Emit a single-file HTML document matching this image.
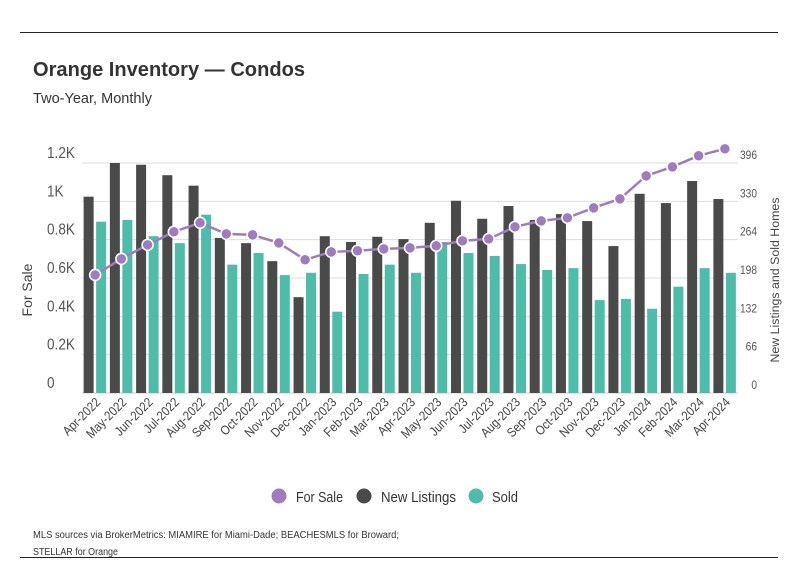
<!DOCTYPE html>
<html><head><meta charset="utf-8"><style>
body{margin:0;background:#fff;font-family:"Liberation Sans",sans-serif}
svg text{font-family:"Liberation Sans",sans-serif}
</style></head><body>
<svg id="c" width="798" height="575" viewBox="0 0 798 575">
<line x1="20" y1="32.5" x2="778" y2="32.5" stroke="#222" stroke-width="1"/>
<line x1="20" y1="557.5" x2="778" y2="557.5" stroke="#222" stroke-width="1"/>
<text x="33" y="76" font-size="20" font-weight="bold" fill="#333" textLength="272" lengthAdjust="spacingAndGlyphs">Orange Inventory — Condos</text>
<text x="33" y="103" font-size="14.5" fill="#333" textLength="119" lengthAdjust="spacingAndGlyphs">Two-Year, Monthly</text>
<text transform="translate(32,290) rotate(-90)" text-anchor="middle" font-size="14" fill="#444">For Sale</text>
<text transform="translate(779,280) rotate(-90)" text-anchor="middle" font-size="11.5" fill="#444" textLength="165" lengthAdjust="spacingAndGlyphs">New Listings and Sold Homes</text>
<g id="grid"></g><g id="bars"></g><g id="line"></g><g id="xlabels"></g>
<g>
<g><circle cx="279" cy="496" r="7.5" fill="#9e7cbf"/><text x="296" y="502" font-size="15" fill="#333" textLength="47" lengthAdjust="spacingAndGlyphs">For Sale</text></g>
<g><circle cx="364" cy="496" r="7.5" fill="#4a4a4a"/><text x="381" y="502" font-size="15" fill="#333" textLength="75" lengthAdjust="spacingAndGlyphs">New Listings</text></g>
<g><circle cx="476" cy="496" r="7.5" fill="#4dbdaa"/><text x="492" y="502" font-size="15" fill="#333" textLength="26" lengthAdjust="spacingAndGlyphs">Sold</text></g>
</g>
<text x="33" y="538" font-size="10" fill="#333" textLength="366" lengthAdjust="spacingAndGlyphs">MLS sources via BrokerMetrics: MIAMIRE for Miami-Dade; BEACHESMLS for Broward;</text>
<text x="33" y="555" font-size="10" fill="#333" textLength="85" lengthAdjust="spacingAndGlyphs">STELLAR for Orange</text>
</svg>
<script>
const categories=["Apr-2022","May-2022","Jun-2022","Jul-2022","Aug-2022","Sep-2022","Oct-2022","Nov-2022","Dec-2022","Jan-2023","Feb-2023","Mar-2023","Apr-2023","May-2023","Jun-2023","Jul-2023","Aug-2023","Sep-2023","Oct-2023","Nov-2023","Dec-2023","Jan-2024","Feb-2024","Mar-2024","Apr-2024"];
const newListings=[338,396,393,375,357,267,258,227,165,270,260,269,265,293,331,300,322,298,308,296,253,343,327,365,334];
const sold=[295,298,270,258,307,221,241,203,207,140,205,221,207,260,241,236,222,212,215,160,162,145,183,215,207];
const forSale=[616,700,773,841,888,830,825,783,695,736,742,752,757,768,794,804,867,898,914,966,1013,1133,1180,1238,1274];
const leftTicks=["0","0.2K","0.4K","0.6K","0.8K","1K","1.2K"];
const rightTicks=["0","66","132","198","264","330","396"];
const NS="http://www.w3.org/2000/svg";
const X0=82,X1=738,Y0=393,Y1=163;
const bw=(X1-X0)/categories.length;
const yL=v=>Y0-(v/1200)*(Y0-Y1);
const yR=v=>Y0-(v/396)*(Y0-Y1);
const xc=i=>X0+bw*(i+0.5);
function mk(tag,attrs,parent){const e=document.createElementNS(NS,tag);for(const k in attrs)e.setAttribute(k,attrs[k]);parent.appendChild(e);return e;}
const grid=document.getElementById('grid');
for(let i=0;i<leftTicks.length;i++){
 const y=Y0-i*(Y0-Y1)/6;
 const gl=mk('line',{x1:X0,x2:X1,y1:y,y2:y,stroke:i==0?'#ccc':'#ddd','stroke-width':1},grid);
 
 
 const t=mk('text',{x:47,y:y-5,'font-size':16,fill:'#555',transform:`translate(47,0) scale(0.85,1) translate(-47,0)`},grid);t.textContent=leftTicks[i];
 
 
 const r=mk('text',{x:757,y:y-4,'font-size':12,fill:'#555','text-anchor':'end',transform:`translate(757,0) scale(0.85,1) translate(-757,0)`},grid);r.textContent=rightTicks[i];
 
 
}
const bars=document.getElementById('bars');
categories.forEach((c,i)=>{
 const cx=xc(i);
 const b1=mk('rect',{x:cx-11.5,y:yR(newListings[i]),width:10,height:Y0-yR(newListings[i]),fill:'#4a4a4a'},bars);
 
 
 const b2=mk('rect',{x:cx+1,y:yR(sold[i]),width:10,height:Y0-yR(sold[i]),fill:'#4dbdaa'},bars);
 
 
 const t=mk('text',{transform:`translate(${cx+6},${403}) rotate(-45) scale(0.88,1)`,'text-anchor':'end','font-size':13,fill:'#444'},document.getElementById('xlabels'));
 t.textContent=c;
 
 
});
const lg=document.getElementById('line');
const pts=forSale.map((v,i)=>xc(i)+','+yL(v)).join(' ');
const pl=mk('polyline',{points:pts,fill:'none',stroke:'#9e7cbf','stroke-width':2.5},lg);


forSale.forEach((v,i)=>{
 const p=mk('circle',{cx:xc(i),cy:yL(v),r:5.5,fill:'#9e7cbf',stroke:'#fff','stroke-width':1.5},lg);
 
 
});
</script>
</body></html>
